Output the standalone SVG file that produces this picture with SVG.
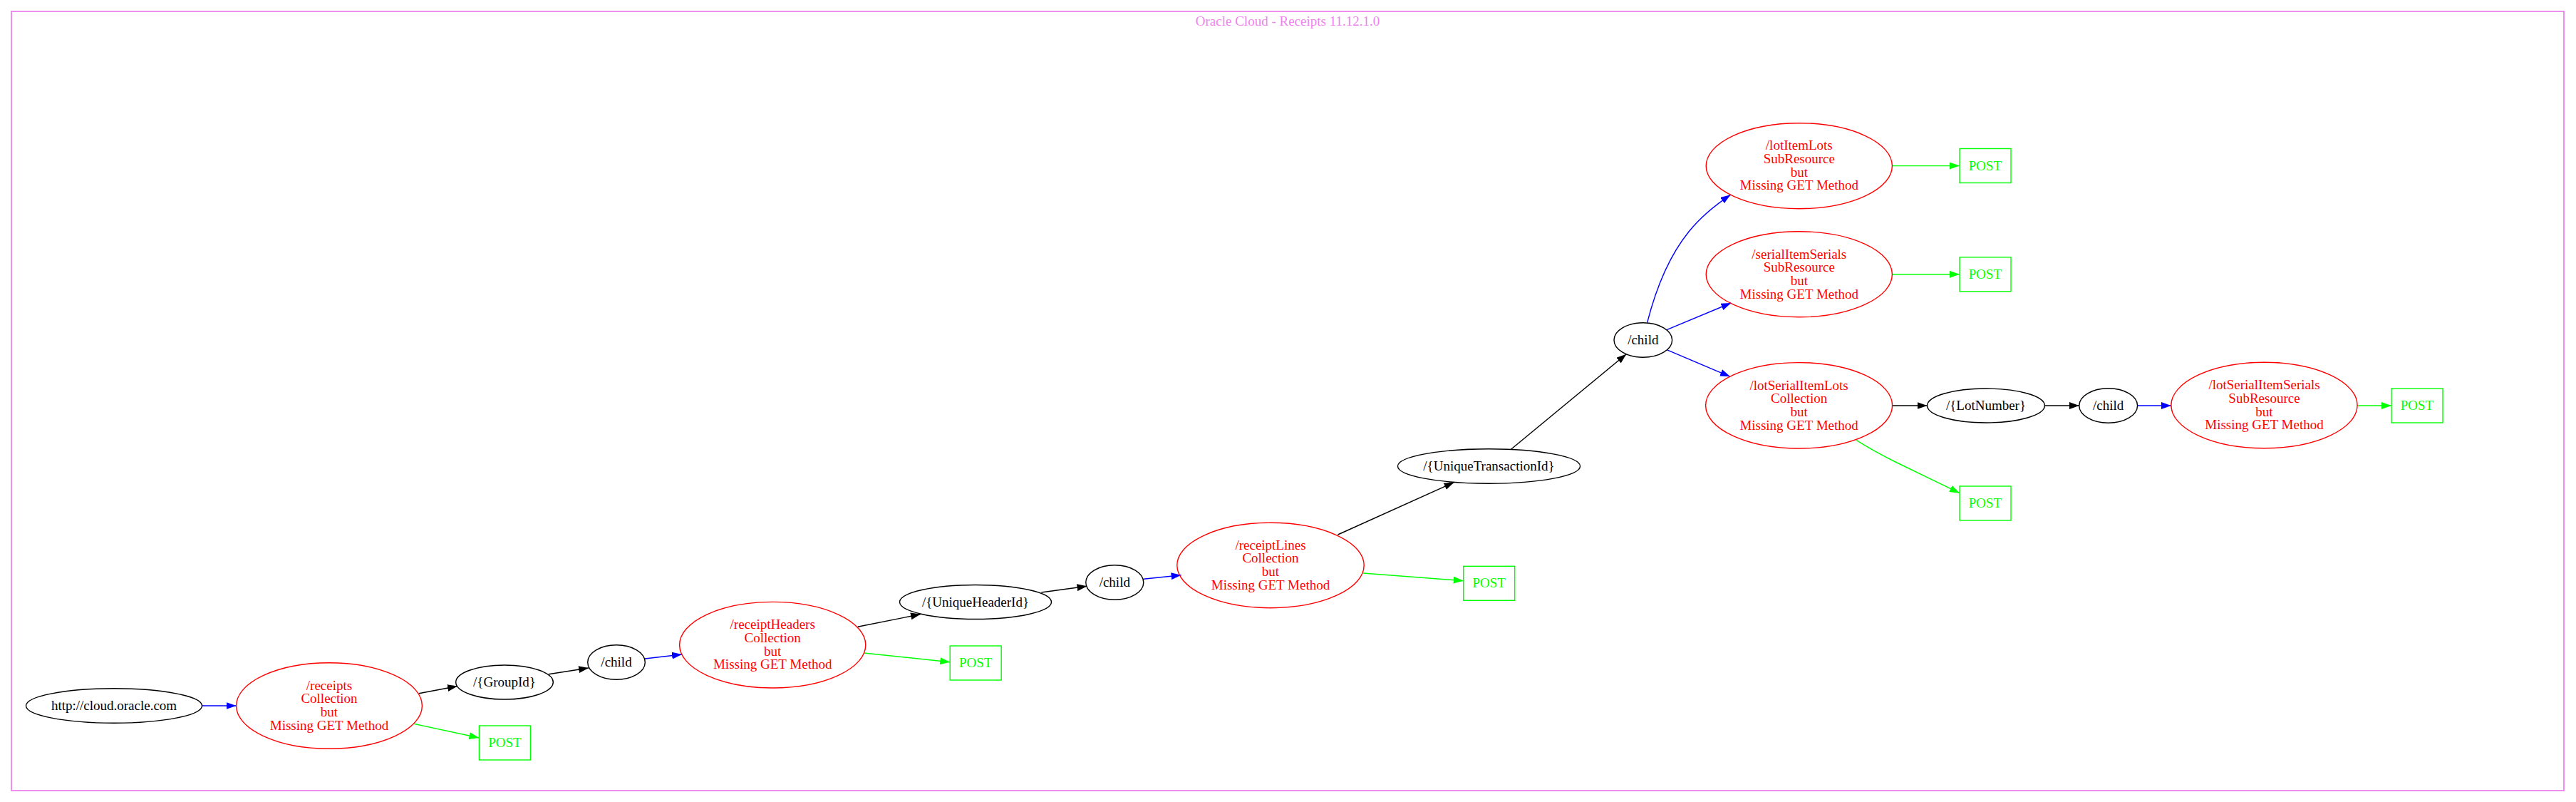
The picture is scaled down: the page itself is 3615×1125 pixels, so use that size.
<svg xmlns="http://www.w3.org/2000/svg" width="3615" height="1125" viewBox="0 0 3615 1125">
<style>
text{font-family:"Liberation Serif","Times New Roman",serif;font-size:19px;text-anchor:middle}
.n ellipse{fill:none;stroke:#000;stroke-width:1.4}
.n text{fill:#000}
.r ellipse{fill:none;stroke:#ff0000;stroke-width:1.4}
.r text{fill:#ff0000}
.p rect{fill:none;stroke:#00ff00;stroke-width:1.4}
.p text{fill:#00ff00}
.e{fill:none;stroke-width:1.4}
.k{stroke:#000}
.b{stroke:#0000ff}
.g{stroke:#00ff00}
</style>
<defs>
<marker id="ak" markerUnits="userSpaceOnUse" markerWidth="14" markerHeight="10" refX="14" refY="5" orient="auto"><path d="M0,0 L14,5 L0,10 z" fill="#000"/></marker>
<marker id="ab" markerUnits="userSpaceOnUse" markerWidth="14" markerHeight="10" refX="14" refY="5" orient="auto"><path d="M0,0 L14,5 L0,10 z" fill="#0000ff"/></marker>
<marker id="ag" markerUnits="userSpaceOnUse" markerWidth="14" markerHeight="10" refX="14" refY="5" orient="auto"><path d="M0,0 L14,5 L0,10 z" fill="#00ff00"/></marker>
</defs>
<rect x="0" y="0" width="3615" height="1125" fill="#fff"/>
<g id="cluster">
<rect x="16" y="16" width="3582" height="1093" fill="none" stroke="#ee82ee" stroke-width="1.8"/>
<text x="1807" y="36" fill="#ee82ee">Oracle Cloud - Receipts 11.12.1.0</text>
</g>
<g id="edges">
<path class="e b" marker-end="url(#ab)" d="M283.7,990 L331.6,990"/>
<path class="e k" marker-end="url(#ak)" d="M587.8,972.7 L642,962.5"/>
<path class="e g" marker-end="url(#ag)" d="M580.6,1015.3 L672.4,1035"/>
<path class="e k" marker-end="url(#ak)" d="M769.9,945.7 L826,937"/>
<path class="e b" marker-end="url(#ab)" d="M905,924 L957,918"/>
<path class="e k" marker-end="url(#ak)" d="M1203.6,879.3 L1292,861.6"/>
<path class="e g" marker-end="url(#ag)" d="M1212,916 L1333.2,928.7"/>
<path class="e k" marker-end="url(#ak)" d="M1461.3,831 L1525.5,822.3"/>
<path class="e b" marker-end="url(#ab)" d="M1604.8,812.3 L1657.6,806.7"/>
<path class="e g" marker-end="url(#ag)" d="M1913,804 L2053.7,814.7"/>
<path class="e k" marker-end="url(#ak)" d="M1877.5,750 L2040.6,676.5"/>
<path class="e k" marker-end="url(#ak)" d="M2119.9,630.7 L2282.3,496.7"/>
<path class="e b" marker-end="url(#ab)" d="M2311.6,452.7 C2322,412 2340,362 2370,325 C2386,305 2405,289 2428.6,273.3"/>
<path class="e b" marker-end="url(#ab)" d="M2339,462.7 L2429.3,425"/>
<path class="e b" marker-end="url(#ab)" d="M2339,490.7 L2428,528.3"/>
<path class="e g" marker-end="url(#ag)" d="M2655.4,232.6 L2750,232.6"/>
<path class="e g" marker-end="url(#ag)" d="M2655.4,384.8 L2750,384.8"/>
<path class="e k" marker-end="url(#ak)" d="M2655.5,569 L2704.5,569"/>
<path class="e g" marker-end="url(#ag)" d="M2605,617.3 C2625,630 2640,638 2660,648 L2750,691.7"/>
<path class="e k" marker-end="url(#ak)" d="M2869.3,569 L2917.8,569"/>
<path class="e b" marker-end="url(#ab)" d="M2999.6,569 L3046.9,569"/>
<path class="e g" marker-end="url(#ag)" d="M3308,569 L3356,569"/>
</g>
<g id="n_root" class="n"><ellipse cx="160" cy="990" rx="123.5" ry="24.3"/><text x="160" y="996">http://cloud.oracle.com</text></g>
<g id="n_receipts" class="r"><ellipse cx="462" cy="990" rx="130.4" ry="60.2"/><text x="462" y="967.7">/receipts</text><text x="462" y="986.3">Collection</text><text x="462" y="1005">but</text><text x="462" y="1023.7">Missing GET Method</text></g>
<g id="p_receipts" class="p"><rect x="672.4" y="1018" width="72" height="48"/><text x="708.4" y="1048">POST</text></g>
<g id="n_groupid" class="n"><ellipse cx="708" cy="957" rx="68.3" ry="24"/><text x="708" y="963">/{GroupId}</text></g>
<g id="n_child1" class="n"><ellipse cx="865" cy="929" rx="40.3" ry="24.2"/><text x="865" y="935">/child</text></g>
<g id="n_receiptHeaders" class="r"><ellipse cx="1084.2" cy="904.7" rx="130.6" ry="60.3"/><text x="1084.2" y="882.4">/receiptHeaders</text><text x="1084.2" y="901">Collection</text><text x="1084.2" y="919.7">but</text><text x="1084.2" y="938.4">Missing GET Method</text></g>
<g id="p_receiptHeaders" class="p"><rect x="1333.2" y="906" width="72" height="48"/><text x="1369.2" y="936">POST</text></g>
<g id="n_uhi" class="n"><ellipse cx="1369" cy="844.5" rx="106.5" ry="24"/><text x="1369" y="850.5">/{UniqueHeaderId}</text></g>
<g id="n_child2" class="n"><ellipse cx="1564.3" cy="817" rx="40.5" ry="24.2"/><text x="1564.3" y="823">/child</text></g>
<g id="n_receiptLines" class="r"><ellipse cx="1783" cy="793" rx="131.2" ry="59.7"/><text x="1783" y="770.7">/receiptLines</text><text x="1783" y="789.3">Collection</text><text x="1783" y="808">but</text><text x="1783" y="826.7">Missing GET Method</text></g>
<g id="p_receiptLines" class="p"><rect x="2053.7" y="794.3" width="72" height="48"/><text x="2089.7" y="824.3">POST</text></g>
<g id="n_uti" class="n"><ellipse cx="2089.5" cy="654" rx="128" ry="24.2"/><text x="2089.5" y="660">/{UniqueTransactionId}</text></g>
<g id="n_child3" class="n"><ellipse cx="2305.8" cy="477" rx="40.8" ry="24.2"/><text x="2305.8" y="483">/child</text></g>
<g id="n_lotItemLots" class="r"><ellipse cx="2524.8" cy="232.7" rx="130.6" ry="60"/><text x="2524.8" y="210.4">/lotItemLots</text><text x="2524.8" y="229">SubResource</text><text x="2524.8" y="247.7">but</text><text x="2524.8" y="266.4">Missing GET Method</text></g>
<g id="p_lotItemLots" class="p"><rect x="2750" y="208.5" width="72" height="48"/><text x="2786" y="238.5">POST</text></g>
<g id="n_serialItemSerials" class="r"><ellipse cx="2524.8" cy="384.8" rx="130.6" ry="60"/><text x="2524.8" y="362.5">/serialItemSerials</text><text x="2524.8" y="381.1">SubResource</text><text x="2524.8" y="399.8">but</text><text x="2524.8" y="418.5">Missing GET Method</text></g>
<g id="p_serialItemSerials" class="p"><rect x="2750" y="360.8" width="72" height="48"/><text x="2786" y="390.8">POST</text></g>
<g id="n_lotSerialItemLots" class="r"><ellipse cx="2524.6" cy="568.8" rx="131" ry="60.2"/><text x="2524.6" y="546.5">/lotSerialItemLots</text><text x="2524.6" y="565.1">Collection</text><text x="2524.6" y="583.8">but</text><text x="2524.6" y="602.5">Missing GET Method</text></g>
<g id="p_lotSerialItemLots" class="p"><rect x="2750" y="682" width="72" height="48"/><text x="2786" y="712">POST</text></g>
<g id="n_lotNumber" class="n"><ellipse cx="2787" cy="569" rx="82.4" ry="24"/><text x="2787" y="575">/{LotNumber}</text></g>
<g id="n_child4" class="n"><ellipse cx="2958.7" cy="569" rx="40.9" ry="24.2"/><text x="2958.7" y="575">/child</text></g>
<g id="n_lotSerialItemSerials" class="r"><ellipse cx="3177.5" cy="568.5" rx="130.6" ry="60.2"/><text x="3177.5" y="546.2">/lotSerialItemSerials</text><text x="3177.5" y="564.8">SubResource</text><text x="3177.5" y="583.5">but</text><text x="3177.5" y="602.2">Missing GET Method</text></g>
<g id="p_lotSerialItemSerials" class="p"><rect x="3356" y="545" width="72" height="48"/><text x="3392" y="575">POST</text></g>
</svg>
